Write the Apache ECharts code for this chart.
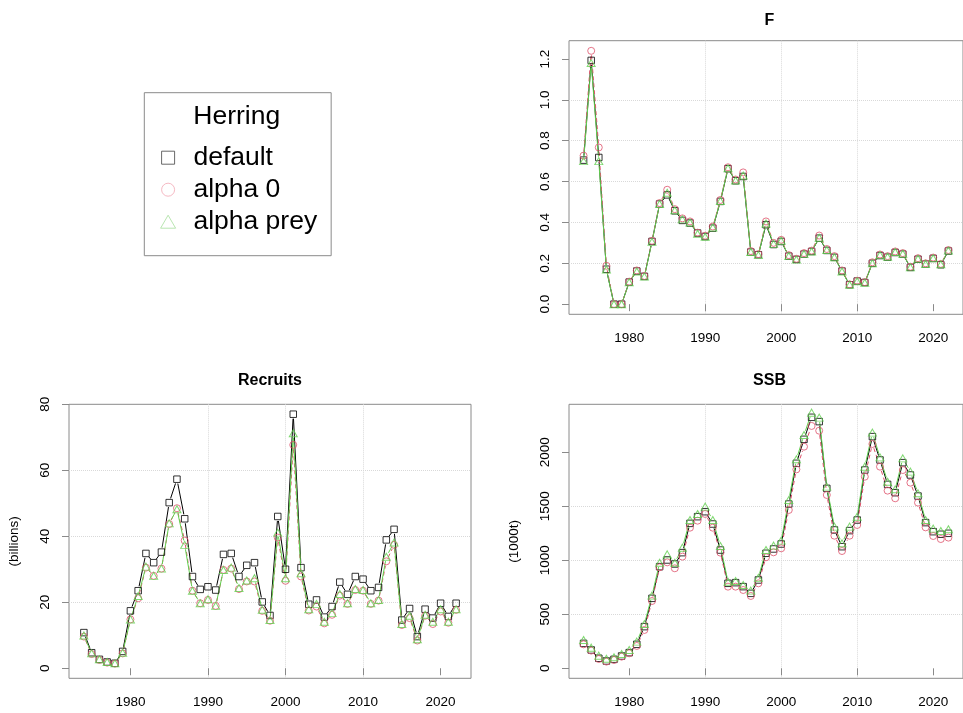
<!DOCTYPE html>
<html>
<head>
<meta charset="utf-8">
<title>Herring</title>
<script src="https://cdn.jsdelivr.net/npm/echarts@6/dist/echarts.min.js"></script>
<style>
  html, body { margin: 0; padding: 0; background: #ffffff; }
  #chart { width: 963px; height: 713px; }
</style>
</head>
<body>
<div id="chart"></div>
<script>
// Assessment years
const years = [1974, 1975, 1976, 1977, 1978, 1979, 1980, 1981, 1982, 1983,
  1984, 1985, 1986, 1987, 1988, 1989, 1990, 1991, 1992, 1993,
  1994, 1995, 1996, 1997, 1998, 1999, 2000, 2001, 2002, 2003,
  2004, 2005, 2006, 2007, 2008, 2009, 2010, 2011, 2012, 2013,
  2014, 2015, 2016, 2017, 2018, 2019, 2020, 2021, 2022];

// Run names
const runNames = ['default', 'alpha 0', 'alpha prey'];

// Fishing mortality F
const fDefault = [0.705, 1.193, 0.718, 0.171, 0.0, 0.0, 0.108, 0.162, 0.136, 0.307,
  0.49, 0.535, 0.457, 0.41, 0.397, 0.348, 0.331, 0.372, 0.503, 0.663,
  0.604, 0.625, 0.255, 0.242, 0.389, 0.292, 0.307, 0.235, 0.219, 0.245,
  0.258, 0.323, 0.263, 0.229, 0.162, 0.095, 0.113, 0.106, 0.20, 0.238,
  0.23, 0.253, 0.245, 0.18, 0.22, 0.196, 0.224, 0.193, 0.26];
const fAlpha0 = [0.727, 1.24, 0.767, 0.188, 0.0, 0.0, 0.11, 0.165, 0.138, 0.31,
  0.495, 0.56, 0.465, 0.42, 0.405, 0.35, 0.335, 0.38, 0.51, 0.67,
  0.61, 0.645, 0.26, 0.245, 0.405, 0.30, 0.315, 0.24, 0.222, 0.25,
  0.262, 0.336, 0.27, 0.235, 0.165, 0.097, 0.115, 0.108, 0.205, 0.243,
  0.235, 0.258, 0.25, 0.183, 0.225, 0.20, 0.228, 0.197, 0.265];
const fAlphaPrey = [0.70, 1.18, 0.70, 0.17, 0.0, 0.0, 0.107, 0.16, 0.135, 0.305,
  0.49, 0.545, 0.46, 0.415, 0.40, 0.345, 0.33, 0.375, 0.505, 0.665,
  0.605, 0.63, 0.255, 0.24, 0.395, 0.295, 0.31, 0.235, 0.218, 0.245,
  0.258, 0.325, 0.265, 0.23, 0.16, 0.095, 0.112, 0.105, 0.20, 0.24,
  0.232, 0.255, 0.247, 0.18, 0.222, 0.197, 0.225, 0.195, 0.262];

// Recruits (billions)
const recDefault = [10.8, 4.7, 2.7, 1.9, 1.5, 5.1, 17.4, 23.5, 34.8, 32.0,
  35.2, 50.2, 57.3, 45.3, 27.8, 23.9, 24.7, 23.7, 34.5, 34.8,
  27.8, 31.2, 32.0, 20.1, 16.0, 46.0, 30.0, 77.0, 30.5, 19.4,
  20.7, 15.5, 18.7, 26.1, 22.4, 27.8, 27.0, 23.5, 24.5, 38.9,
  42.1, 14.6, 18.1, 9.6, 17.9, 15.2, 19.7, 15.7, 19.7];
const recAlpha0 = [9.6, 4.3, 2.5, 1.7, 1.4, 4.5, 14.8, 21.2, 30.5, 28.0,
  30.2, 43.7, 48.5, 38.7, 23.5, 19.7, 20.7, 18.9, 29.8, 30.2,
  24.0, 26.3, 26.3, 17.4, 14.4, 39.6, 26.5, 67.7, 27.8, 17.5,
  18.7, 13.6, 16.2, 22.0, 19.5, 23.7, 23.5, 19.5, 20.5, 32.4,
  37.4, 13.1, 15.2, 8.4, 15.9, 13.4, 17.2, 13.8, 17.7];
const recAlphaPrey = [9.9, 4.5, 2.7, 1.9, 1.5, 4.7, 14.8, 21.9, 30.8, 28.0,
  30.2, 43.9, 48.2, 37.4, 23.5, 19.7, 20.9, 18.9, 29.8, 30.5,
  24.3, 26.6, 27.3, 17.7, 14.6, 41.1, 27.3, 71.2, 28.8, 17.9,
  19.5, 14.1, 16.7, 22.5, 19.7, 24.0, 23.7, 19.7, 20.7, 33.8,
  38.1, 13.4, 15.9, 8.8, 16.2, 14.1, 17.9, 14.1, 17.9];

// Spawning stock biomass (1000 t)
const ssbDefault = [231, 170, 93, 68, 83, 114, 145, 222, 386, 648,
  941, 1003, 966, 1071, 1342, 1404, 1450, 1336, 1095, 787,
  793, 756, 694, 818, 1065, 1105, 1151, 1521, 1898, 2120,
  2324, 2284, 1666, 1281, 1126, 1275, 1373, 1836, 2145, 1929,
  1703, 1626, 1904, 1790, 1595, 1349, 1265, 1241, 1250];
const ssbAlpha0 = [222, 164, 86, 62, 77, 108, 139, 207, 355, 623,
  935, 981, 926, 1034, 1302, 1367, 1429, 1302, 1071, 756,
  756, 725, 670, 787, 1028, 1074, 1111, 1466, 1842, 2052,
  2244, 2200, 1605, 1228, 1086, 1228, 1327, 1774, 2077, 1867,
  1645, 1574, 1836, 1719, 1534, 1305, 1225, 1197, 1210];
const ssbAlphaPrey = [262, 191, 117, 89, 102, 133, 170, 247, 410, 673,
  978, 1055, 978, 1117, 1373, 1429, 1497, 1373, 1133, 802,
  808, 771, 719, 839, 1096, 1136, 1182, 1558, 1935, 2160,
  2367, 2321, 1682, 1312, 1157, 1312, 1404, 1867, 2182, 1953,
  1728, 1657, 1944, 1821, 1620, 1373, 1293, 1271, 1287];

// Tick labels
const yearTicks = [1980, 1990, 2000, 2010, 2020];
const fTicks = [0.0, 0.2, 0.4, 0.6, 0.8, 1.0, 1.2];
const recTicks = [0, 20, 40, 60, 80];
const ssbTicks = [0, 500, 1000, 1500, 2000];

// ---------------------------------------------------------------
const FONT = '"Liberation Sans", Arial, Helvetica, sans-serif';
const LINE_COLORS = ['#000000', '#DF536B', '#61D04F'];
const LEGEND_COLORS = ['#444444', '#F2A7B4', '#A8DE9E'];
const SYMBOLS = ['rect', 'circle', 'triangle'];
const SYMBOL_SIZES = [6.5, 7, [8, 7]];
const LINE_DASH = [null, [4, 3], null];
const GAP = 4.5;   // type "b": line stops short of each point
const AXIS_GREY = '#8a8a8a';

const panels = [
  { runs: [fDefault, fAlpha0, fAlphaPrey], ticks: fTicks, min: -0.0496, max: 1.2896, split: 6,
    fmt: v => v.toFixed(1), name: '',
    grid: { left: 569, top: 40.7, width: 402, height: 273.6 } },
  { runs: [recDefault, recAlpha0, recAlphaPrey], ticks: recTicks, min: -3.05, max: 80, split: 4,
    fmt: v => String(v), name: '(billions)',
    grid: { left: 69, top: 404.3, width: 402, height: 274 } },
  { runs: [ssbDefault, ssbAlpha0, ssbAlphaPrey], ticks: ssbTicks, min: -92.6, max: 2444.4, split: 5,
    fmt: v => String(v), name: '(1000t)',
    grid: { left: 569, top: 404.3, width: 402, height: 274 } }
];

const grids = [], xAxes = [], yAxes = [];
const lineSeries = [], pointSeries = [];

function segments(vals) {
  const out = [];
  for (let i = 0; i < years.length - 1; i++) {
    out.push([years[i], vals[i], years[i + 1], vals[i + 1]]);
  }
  return out;
}

panels.forEach((p, k) => {
  grids.push(Object.assign({
    show: true, borderColor: AXIS_GREY, borderWidth: 1,
    backgroundColor: 'transparent', containLabel: false
  }, p.grid));

  xAxes.push({
    type: 'value', gridIndex: k, min: 1972.08, max: 2023.92, splitNumber: 5,
    axisLine: { show: false },
    axisTick: { show: true, inside: false, length: 7, customValues: yearTicks,
      lineStyle: { color: AXIS_GREY, width: 1 } },
    axisLabel: { show: true, customValues: yearTicks, margin: 17, color: '#000',
      fontFamily: FONT, fontSize: 13.5, formatter: v => String(v), hideOverlap: false },
    splitLine: { show: true, showMinLine: false, showMaxLine: false,
      lineStyle: { color: '#d9d9d9', type: 'dotted', width: 1 } }
  });

  yAxes.push({
    type: 'value', gridIndex: k, min: p.min, max: p.max, splitNumber: p.split,
    name: p.name, nameLocation: 'middle', nameGap: 48,
    nameTextStyle: { color: '#000', fontFamily: FONT, fontSize: 13.5 },
    axisLine: { show: false },
    axisTick: { show: true, inside: false, length: 7, customValues: p.ticks,
      lineStyle: { color: AXIS_GREY, width: 1 } },
    axisLabel: { show: true, customValues: p.ticks, rotate: 90, margin: 17, color: '#000',
      fontFamily: FONT, fontSize: 13.5, formatter: p.fmt, hideOverlap: false },
    splitLine: { show: true, showMinLine: false, showMaxLine: false,
      lineStyle: { color: '#d9d9d9', type: 'dotted', width: 1 } }
  });

  p.runs.forEach((vals, r) => {
    pointSeries.push({
      type: 'scatter', name: runNames[r], xAxisIndex: k, yAxisIndex: k,
      data: years.map((y, i) => [y, vals[i]]),
      symbol: SYMBOLS[r], symbolSize: SYMBOL_SIZES[r],
      itemStyle: { color: 'rgba(0,0,0,0)', borderColor: LINE_COLORS[r], borderWidth: 1 },
      emphasis: { disabled: true }, silent: true, z: 3 + r * 0.1
    });
    const color = LINE_COLORS[r];
    const dash = LINE_DASH[r];
    lineSeries.push({
      type: 'custom', name: runNames[r], xAxisIndex: k, yAxisIndex: k,
      data: segments(vals),
      encode: { x: [0, 2], y: [1, 3] },
      silent: true, z: 2 + r * 0.1,
      renderItem: function (params, api) {
        const a = api.coord([api.value(0), api.value(1)]);
        const b = api.coord([api.value(2), api.value(3)]);
        const dx = b[0] - a[0], dy = b[1] - a[1];
        const d = Math.sqrt(dx * dx + dy * dy);
        if (d <= 2 * GAP) return null;
        const ux = dx / d, uy = dy / d;
        return {
          type: 'line',
          shape: { x1: a[0] + ux * GAP, y1: a[1] + uy * GAP, x2: b[0] - ux * GAP, y2: b[1] - uy * GAP },
          style: { stroke: color, lineWidth: 1, lineDash: dash, fill: null }
        };
      }
    });
  });
});

const chart = echarts.init(document.getElementById('chart'), null, { renderer: 'canvas' });
chart.setOption({
  animation: false,
  backgroundColor: '#ffffff',
  grid: grids,
  xAxis: xAxes,
  yAxis: yAxes,
  legend: {
    orient: 'vertical', left: 144.3, top: 92.7,
    padding: [51.5, 14, 20.5, 15.8],
    borderColor: AXIS_GREY, borderWidth: 1,
    itemWidth: 40.6, itemHeight: 13, itemGap: 5,
    symbolKeepAspect: true,
    selectedMode: false,
    textStyle: { color: '#000', fontFamily: FONT, fontSize: 26.5 },
    data: [
      { name: runNames[0], icon: 'path://M0,0L1,0L1,1L0,1Z',
        itemStyle: { color: 'rgba(0,0,0,0)', borderColor: LEGEND_COLORS[0], borderWidth: 1 } },
      { name: runNames[1], icon: 'circle',
        itemStyle: { color: 'rgba(0,0,0,0)', borderColor: LEGEND_COLORS[1], borderWidth: 1 } },
      { name: runNames[2], icon: 'path://M0.5,0L1,0.866L0,0.866Z',
        itemStyle: { color: 'rgba(0,0,0,0)', borderColor: LEGEND_COLORS[2], borderWidth: 1 } }
    ]
  },
  graphic: [
    { type: 'text', x: 769.5, y: 21, silent: true,
      style: { text: 'F', font: 'bold 16px ' + FONT, fill: '#000', align: 'center', verticalAlign: 'middle' } },
    { type: 'text', x: 270, y: 381, silent: true,
      style: { text: 'Recruits', font: 'bold 16px ' + FONT, fill: '#000', align: 'center', verticalAlign: 'middle' } },
    { type: 'text', x: 769.5, y: 381, silent: true,
      style: { text: 'SSB', font: 'bold 16px ' + FONT, fill: '#000', align: 'center', verticalAlign: 'middle' } },
    { type: 'text', x: 236.7, y: 116.7, silent: true,
      style: { text: 'Herring', font: '26.5px ' + FONT, fill: '#000', align: 'center', verticalAlign: 'middle' } }
  ],
  series: pointSeries.concat(lineSeries)
});
</script>
</body>
</html>
